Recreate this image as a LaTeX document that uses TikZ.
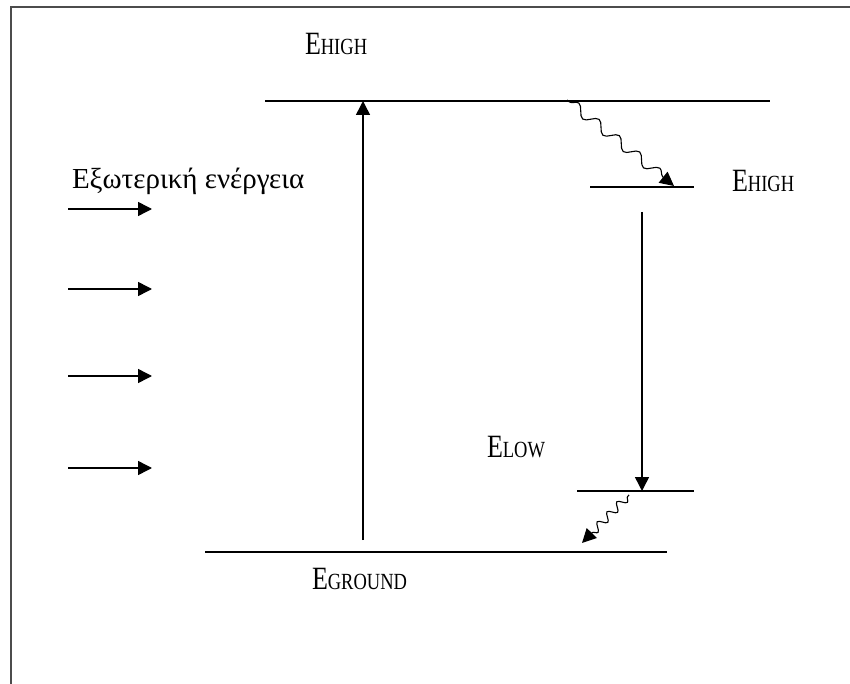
\documentclass[tikz,border=0pt]{standalone}
\usepackage{fontspec}
\setmainfont{Liberation Serif}
\usetikzlibrary{arrows.meta,decorations.pathmorphing}
\newcommand{\lvl}[2]{\scalebox{1}[1.25]{\fontsize{26}{28}\selectfont E\fontsize{18.5}{20}\selectfont #2}}
\begin{document}
\begin{tikzpicture}[x=1pt,y=-1pt,
  level/.style={line width=1.5pt},
  tip/.style={-{Triangle[length=14pt,width=14pt]},line width=1.5pt},
  lbl/.style={anchor=base west,inner sep=0pt,outer sep=0pt},
  frame/.style={line width=2pt,draw=black!70}]
\useasboundingbox (0,0) rectangle (850,684);
\fill[white] (0,0) rectangle (850,684);
\draw[frame] (11,684) -- (11,7) -- (850,7);
% levels
\coordinate (t1) at (265,101); \coordinate (t2) at (770,101);
\coordinate (h1) at (590,187); \coordinate (h2) at (694,187);
\coordinate (l1) at (577,491); \coordinate (l2) at (694,491);
\coordinate (g1) at (205,552); \coordinate (g2) at (667,552);
\draw[level] (t1) -- (t2);
\draw[level] (h1) -- (h2);
\draw[level] (l1) -- (l2);
\draw[level] (g1) -- (g2);
% labels
\node[lbl] (eh1) at (305,55) {\lvl{E}{HIGH}};
\node[lbl] (eh2) at (732,192) {\lvl{E}{HIGH}};
\node[lbl] (el) at (487,457) {\lvl{E}{LOW}};
\node[lbl] (eg) at (312,589) {\lvl{E}{GROUND}};
\node[lbl] (ext) at (72,189) {\fontsize{29}{32}\selectfont Εξωτερική ενέργεια};
% transitions
\coordinate (up0) at (363,540); \coordinate (up1) at (363,101);
\draw[tip] (up0) -- (up1);
\coordinate (dn0) at (642,212); \coordinate (dn1) at (642,491);
\draw[tip] (dn0) -- (dn1);
\coordinate (w0) at (567,100); \coordinate (w1) at (674,186);
\draw[tip,line width=1.1pt,decorate,decoration={snake,amplitude=5pt,segment length=26pt,pre length=3pt,post length=14pt}] (w0) -- (w1);
\coordinate (s0) at (629,495); \coordinate (s1) at (582,543);
\draw[tip,line width=1.1pt,decorate,decoration={snake,amplitude=4pt,segment length=14pt,pre length=2pt,post length=14pt}] (s0) -- (s1);
% external energy arrows
\foreach \i/\y in {1/209,2/289,3/376,4/468}{
  \coordinate (a\i) at (68,\y); \coordinate (b\i) at (152,\y);
  \draw[tip] (a\i) -- (b\i);
}
\end{tikzpicture}
\end{document}
